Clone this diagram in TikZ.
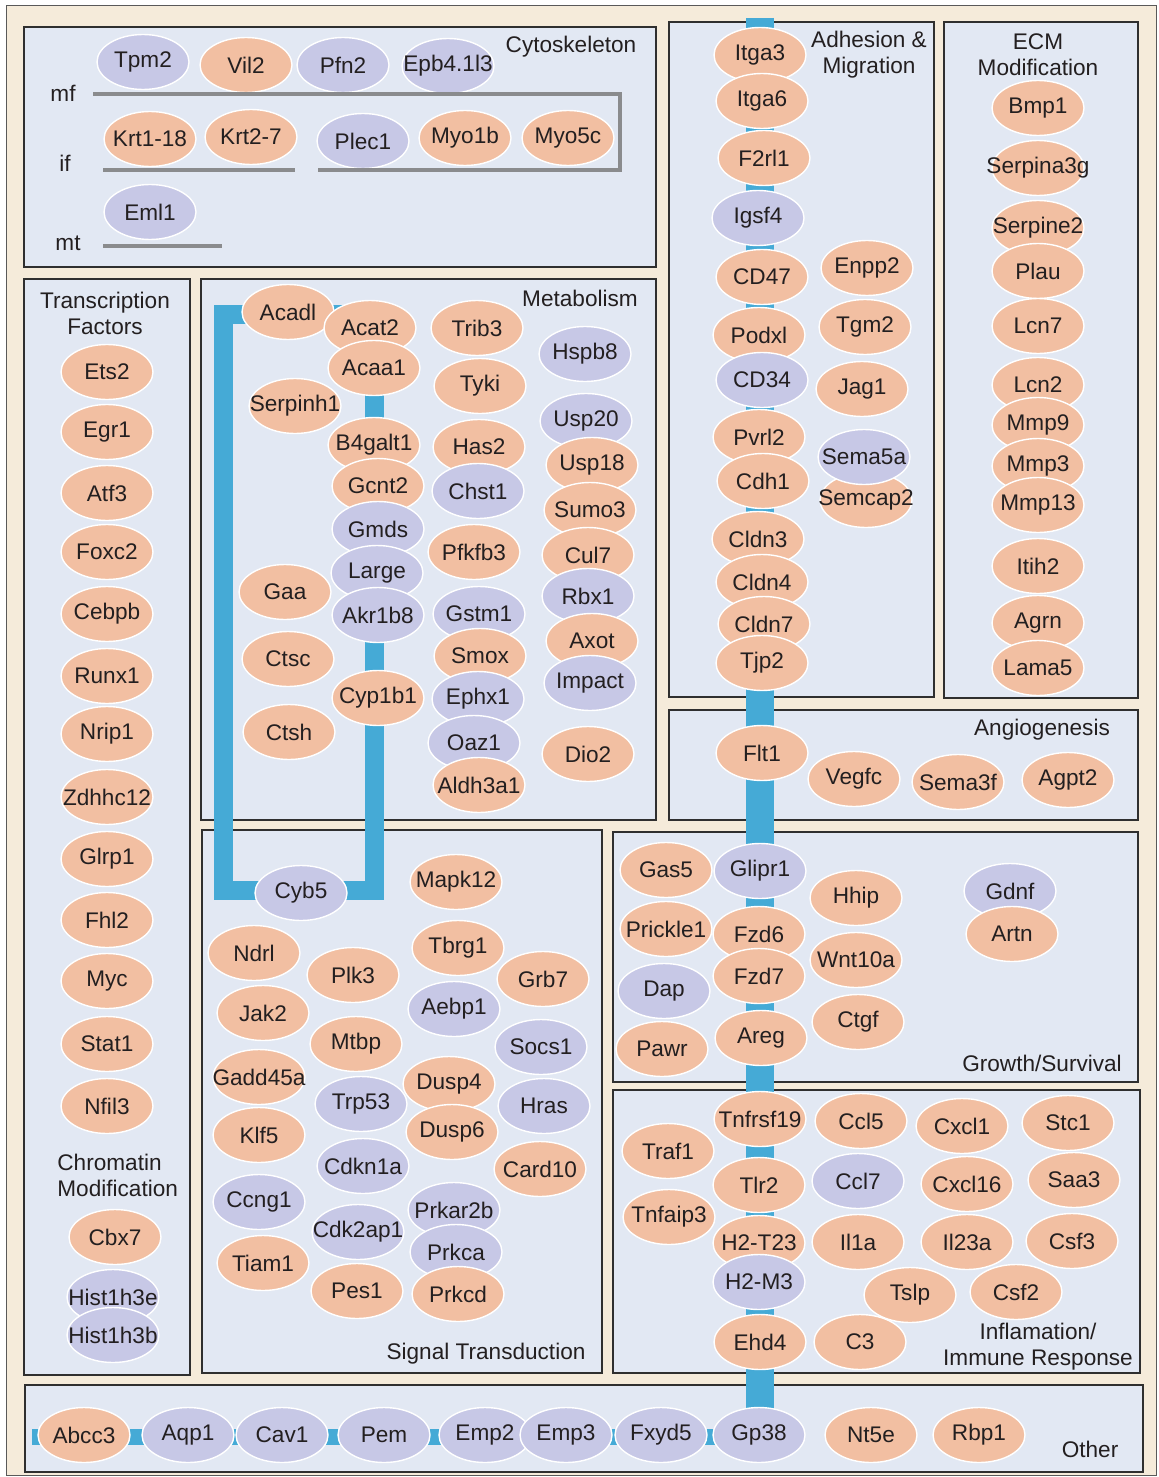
\documentclass[tikz,border=0pt]{standalone}
\usepackage{fontspec}
\setmainfont{Liberation Sans}
\usetikzlibrary{shapes.geometric}
\definecolor{cream}{HTML}{F5EBDA}
\definecolor{panelblue}{HTML}{E2E8F3}
\definecolor{salmon}{HTML}{F2BFA2}
\definecolor{lilac}{HTML}{C7C8E6}
\definecolor{barblue}{HTML}{45AAD6}
\definecolor{filgray}{HTML}{8A8B8D}
\definecolor{frame}{HTML}{2F2F2F}
\definecolor{ink}{HTML}{231F20}
\newcommand{\gfont}{\fontsize{11.3}{13}\selectfont}
\pgfdeclarelayer{bg}
\pgfsetlayers{bg,main}
\tikzset{
  gene/.style = {ellipse, minimum width=46pt, minimum height=27.5pt, inner xsep=-25pt, inner ysep=0pt,
                 draw=white, line width=0.7pt, text=ink, font=\gfont},
  gene_s/.style = {gene, fill=salmon},
  gene_l/.style = {gene, fill=lilac},
  panel/.style = {draw=frame, fill=panelblue, line width=1pt},
  fil/.style = {draw=filgray, line width=2pt},
  bar/.style = {draw=barblue, line width=14pt},
  metbar/.style = {draw=barblue, line width=9.5pt},
  othbar/.style = {draw=barblue, line width=8pt},
  title/.style = {font=\gfont, text=ink, align=center, inner sep=0pt},
}

\begin{document}
\begin{tikzpicture}[x=0.5pt, y=-0.5pt]
  \useasboundingbox (0,0) rectangle (1158,1477);

  % Cytoskeleton
  \node[title] (cyto) at (571,47) {Cytoskeleton};
  \node[title] (mf) at (63,93) {mf};
  \node[title] (if) at (65,163) {if};
  \node[title] (mt) at (68,243) {mt};
  \foreach \g/\x/\y/\c in {Tpm2/143/62/l, Vil2/246/65/s, Pfn2/343/65/l,
      Krt1-18/150/139/s, Krt2-7/251/137/s, Plec1/363/141/l, Myo1b/465/138/s,
      Myo5c/568/138/s, Eml1/150/212/l}
    \node[gene_\c] (\g) at (\x,\y) {\g};
  \node[gene_l] (Epb) at (448,66) {Epb4.1l3};
  \draw[fil] (93,94) -- (620,94) -- (620,170) -- (318,170);
  \draw[fil] (103,170) -- (295,170);
  \draw[fil] (103,246) -- (222,246);

  % Adhesion & Migration
  \node[title] (adh) at (869,55) {Adhesion \&\\Migration};
  \foreach \g/\x/\y/\c in {Itga3/760/55/s, Itga6/762/101/s, F2rl1/764/158/s,
      Igsf4/758/218/l, CD47/762/277/s, Podxl/759/335/s, CD34/762/380/l,
      Pvrl2/759/437/s, Cdh1/763/481/s, Cldn3/758/539/s, Cldn4/762/582/s,
      Cldn7/764/624/s, Tjp2/762/663/s, Enpp2/867/268/s, Tgm2/865/327/s,
      Jag1/862/389/s, Semcap2/866/500/s, Sema5a/864/457/l}
    \node[gene_\c] (\g) at (\x,\y) {\g};

  % ECM Modification
  \node[title] (ecm) at (1038,55) {ECM\\Modification};
  \foreach \g/\y in {Bmp1/108, Serpina3g/168, Serpine2/228, Plau/271, Lcn7/326,
      Lcn2/385, Mmp9/425, Mmp3/466, Mmp13/505, Itih2/566, Agrn/623, Lama5/668}
    \node[gene_s] (\g) at (1038,\y) {\g};

  % Transcription Factors
  \node[title] (tf) at (105,313) {Transcription\\Factors};
  \foreach \g/\y in {Ets2/372, Egr1/432, Atf3/493, Foxc2/552, Cebpb/614,
      Runx1/676, Nrip1/734, Zdhhc12/797, Glrp1/859, Fhl2/920, Myc/981,
      Stat1/1044, Nfil3/1106}
    \node[gene_s] (\g) at (107,\y) {\g};
  \node[title, align=left, anchor=west] (chrom) at (57,1175) {Chromatin\\Modification};
  \node[gene_s] (Cbx7) at (115,1237) {Cbx7};
  \node[gene_l] (Hist1h3e) at (113,1297) {Hist1h3e};
  \node[gene_l] (Hist1h3b) at (113,1335) {Hist1h3b};

  % Metabolism
  \node[title] (met) at (580,298) {Metabolism};
  \foreach \g/\x/\y/\c in {Acadl/288/312/s, Acat2/370/328/s, Acaa1/374/368/s,
      Serpinh1/295/406/s, B4galt1/374/445/s, Gcnt2/378/486/s, Gmds/378/529/l,
      Large/377/573/l, Akr1b8/378/615/l, Cyp1b1/378/698/s, Gaa/285/592/s,
      Ctsc/288/659/s, Ctsh/289/732/s,
      Trib3/477/328/s, Tyki/480/386/s, Has2/479/447/s, Chst1/478/491/l,
      Pfkfb3/474/552/s, Gstm1/479/614/l, Smox/480/656/s, Ephx1/478/699/l,
      Oaz1/474/743/l, Aldh3a1/479/785/s,
      Hspb8/585/354/l, Usp20/586/421/l, Usp18/592/465/s, Sumo3/590/510/s,
      Cul7/588/555/s, Rbx1/588/596/l, Axot/592/641/s, Impact/590/683/l,
      Dio2/588/754/s}
    \node[gene_\c] (\g) at (\x,\y) {\g};

  % Signal Transduction
  \node[title] (sig) at (486,1354) {Signal Transduction};
  \foreach \g/\x/\y/\c in {Cyb5/301/893/l, Mapk12/456/882/s, Ndrl/254/953/s,
      Plk3/353/975/s, Tbrg1/458/948/s, Grb7/543/979/s, Jak2/263/1013/s,
      Aebp1/454/1009/l, Mtbp/356/1044/s, Socs1/541/1047/l, Gadd45a/259/1077/s,
      Dusp4/449/1084/s, Trp53/361/1104/l, Hras/544/1106/l, Klf5/259/1135/s,
      Dusp6/452/1132/s, Cdkn1a/363/1166/l, Card10/540/1169/s, Ccng1/259/1202/l,
      Prkar2b/454/1210/l, Cdk2ap1/358/1232/l, Prkca/456/1252/l, Tiam1/263/1263/s,
      Pes1/357/1291/s, Prkcd/458/1294/s}
    \node[gene_\c] (\g) at (\x,\y) {\g};

  % Angiogenesis
  \node[title] (ang) at (1042,730) {Angiogenesis};
  \foreach \g/\x/\y in {Flt1/762/753, Vegfc/854/779, Sema3f/958/782, Agpt2/1068/780}
    \node[gene_s] (\g) at (\x,\y) {\g};

  % Growth/Survival
  \node[title] (grow) at (1042,1063) {Growth/Survival};
  \foreach \g/\x/\y/\c in {Gas5/666/870/s, Glipr1/760/871/l, Hhip/856/898/s,
      Gdnf/1010/891/l, Artn/1012/934/s, Prickle1/666/929/s, Fzd6/759/934/s,
      Wnt10a/856/960/s, Fzd7/759/976/s, Dap/664/991/l, Ctgf/858/1022/s,
      Pawr/662/1049/s, Areg/761/1038/s}
    \node[gene_\c] (\g) at (\x,\y) {\g};

  % Inflamation/Immune Response
  \node[title] (infl) at (1038,1347) {Inflamation/\\Immune Response};
  \foreach \g/\x/\y/\c in {Tnfrsf19/760/1119/s, Ccl5/861/1121/s, Cxcl1/962/1126/s,
      Stc1/1068/1123/s, Traf1/668/1151/s, Tlr2/759/1185/s, Ccl7/858/1181/l,
      Cxcl16/967/1184/s, Saa3/1074/1180/s, Tnfaip3/669/1217/s, H2-T23/759/1243/s,
      Il1a/858/1242/s, Il23a/967/1242/s, Csf3/1072/1241/s, H2-M3/759/1282/l,
      Tslp/910/1295/s, Csf2/1016/1292/s, Ehd4/760/1342/s, C3/860/1342/s}
    \node[gene_\c] (\g) at (\x,\y) {\g};

  % Other
  \node[title] (oth) at (1090,1449) {Other};
  \foreach \g/\x/\c in {Abcc3/84/s, Aqp1/188/l, Cav1/282/l, Pem/384/l, Emp2/485/l,
      Emp3/566/l, Fxyd5/661/l, Gp38/759/l, Nt5e/871/s, Rbp1/979/s}
    \node[gene_\c] (\g) at (\x,1435) {\g};

  \coordinate (adtop) at (760,18);
  \coordinate (mettl) at (223,314);
  \coordinate (metbr) at (374,890);
  \coordinate (obar) at (32,1437);

  \begin{pgfonlayer}{bg}
    \fill[white] (0,0) rectangle (1158,1477);
    \draw[fill=cream, draw=frame!80, line width=0.4pt] (6,5) rectangle (1156,1475);
    \foreach \a/\b/\c/\d in {24/27/656/267, 669/22/934/697, 944/22/1138/698,
        24/279/190/1375, 201/279/656/820, 202/830/602/1373, 669/710/1138/820,
        613/832/1138/1082, 613/1090/1140/1373, 25/1385/1143/1472}
      \draw[panel] (\a,\b) rectangle (\c,\d);
    \draw[bar] (adtop) -- (adtop |- Gp38.center);
    \draw[metbar] (mettl) rectangle (metbr);
    \draw[othbar] (obar) -- (obar -| Gp38.center);
  \end{pgfonlayer}
\end{tikzpicture}
\end{document}
